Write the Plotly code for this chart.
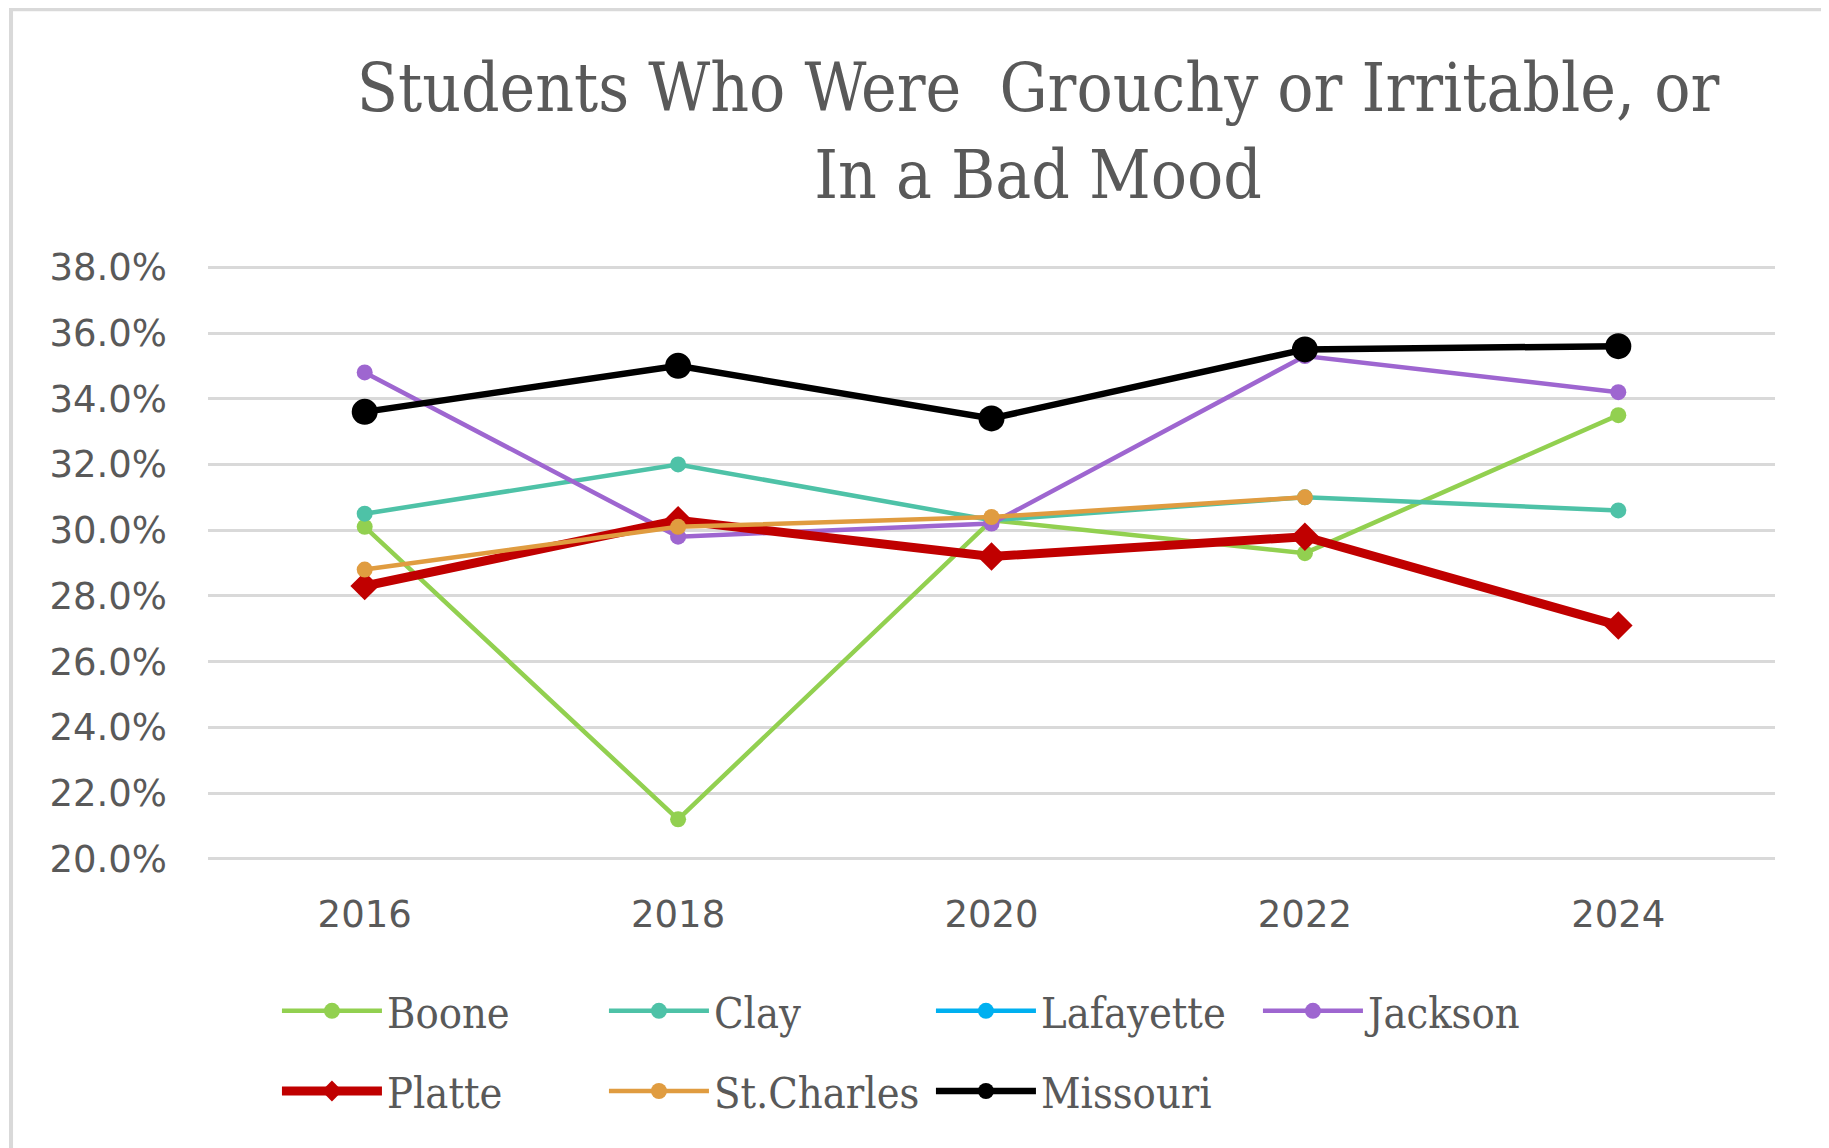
import plotly.graph_objects as go

# Survey years and county values (percent)
years = ["2016", "2018", "2020", "2022", "2024"]

boone = [30.1, 21.2, 30.3, 29.3, 33.5]
clay = [30.5, 32.0, 30.3, 31.0, 30.6]
lafayette = [None, None, None, None, None]
jackson = [34.8, 29.8, 30.2, 35.3, 34.2]
platte = [28.3, 30.3, 29.2, 29.8, 27.1]
st_charles = [28.8, 30.1, 30.4, 31.0, None]
missouri = [33.6, 35.0, 33.4, 35.5, 35.6]

FONT = "DejaVu Serif Condensed, DejaVu Serif, serif"
TICK_FONT = "DejaVu Sans, sans-serif"
TEXT_GRAY = "#595959"
GRID = "#D9D9D9"

# name, values, color, line width, marker symbol, marker size, legend
series = [
    ("Boone", boone, "#92D050", 4.5, "circle", 16, "legend"),
    ("Clay", clay, "#4EC2A7", 4.5, "circle", 16, "legend"),
    ("Lafayette", lafayette, "#00B0F0", 4.5, "circle", 16, "legend"),
    ("Jackson", jackson, "#9E66D0", 4.5, "circle", 16, "legend"),
    ("Platte", platte, "#C00000", 9, "diamond", 22, "legend2"),
    ("St.Charles", st_charles, "#E09C40", 4.5, "circle", 16, "legend2"),
    ("Missouri", missouri, "#000000", 6.5, "circle", 26, "legend2"),
]

fig = go.Figure()

for name, vals, color, lw, sym, ms, leg in series:
    fig.add_trace(go.Scatter(
        x=years,
        y=vals,
        name=name,
        mode="lines+markers",
        line=dict(color=color, width=lw),
        marker=dict(color=color, symbol=sym, size=ms),
        legend=leg,
    ))

legend_style = dict(
    orientation="h",
    xanchor="left",
    yanchor="middle",
    x=0.044,
    font=dict(family=FONT, size=43, color=TEXT_GRAY),
    entrywidth=212,
    entrywidthmode="pixels",
    itemwidth=100,
    bgcolor="rgba(0,0,0,0)",
    itemclick=False,
)

# page body adds an 8px margin, so the figure is 8px smaller
fig.update_layout(
    width=1821,
    height=1140,
    paper_bgcolor="white",
    plot_bgcolor="white",
    margin=dict(l=200, r=54, t=256, b=286),
    title=dict(
        text="Students Who Were  Grouchy or Irritable, or<br>In a Bad Mood",
        x=1030 / 1821,
        xanchor="center",
        y=1 - 103 / 1140,
        yanchor="middle",
        yref="container",
        font=dict(family=FONT, size=67, color=TEXT_GRAY),
    ),
    showlegend=True,
    legend=dict(legend_style, y=-0.249),
    legend2=dict(legend_style, y=-0.383),
    shapes=[
        dict(type="rect", xref="paper", yref="paper",
             x0=-0.1257, x1=1.0332, y0=-0.6, y1=1.426,
             line=dict(color=GRID, width=4), layer="below"),
    ],
)

fig.update_xaxes(
    type="category",
    range=[-0.5, 4.5],
    showgrid=False,
    showline=False,
    zeroline=False,
    ticks="",
    ticklabelstandoff=27,
    tickfont=dict(family=TICK_FONT, size=37, color=TEXT_GRAY),
)

fig.update_yaxes(
    range=[19.9, 38.1],
    dtick=2,
    tick0=20,
    ticksuffix="%",
    tickformat=".1f",
    showgrid=True,
    gridcolor=GRID,
    gridwidth=3,
    zeroline=False,
    showline=False,
    ticks="",
    ticklabelstandoff=40,
    tickfont=dict(family=TICK_FONT, size=37, color=TEXT_GRAY),
)

fig.write_html("out.html")
